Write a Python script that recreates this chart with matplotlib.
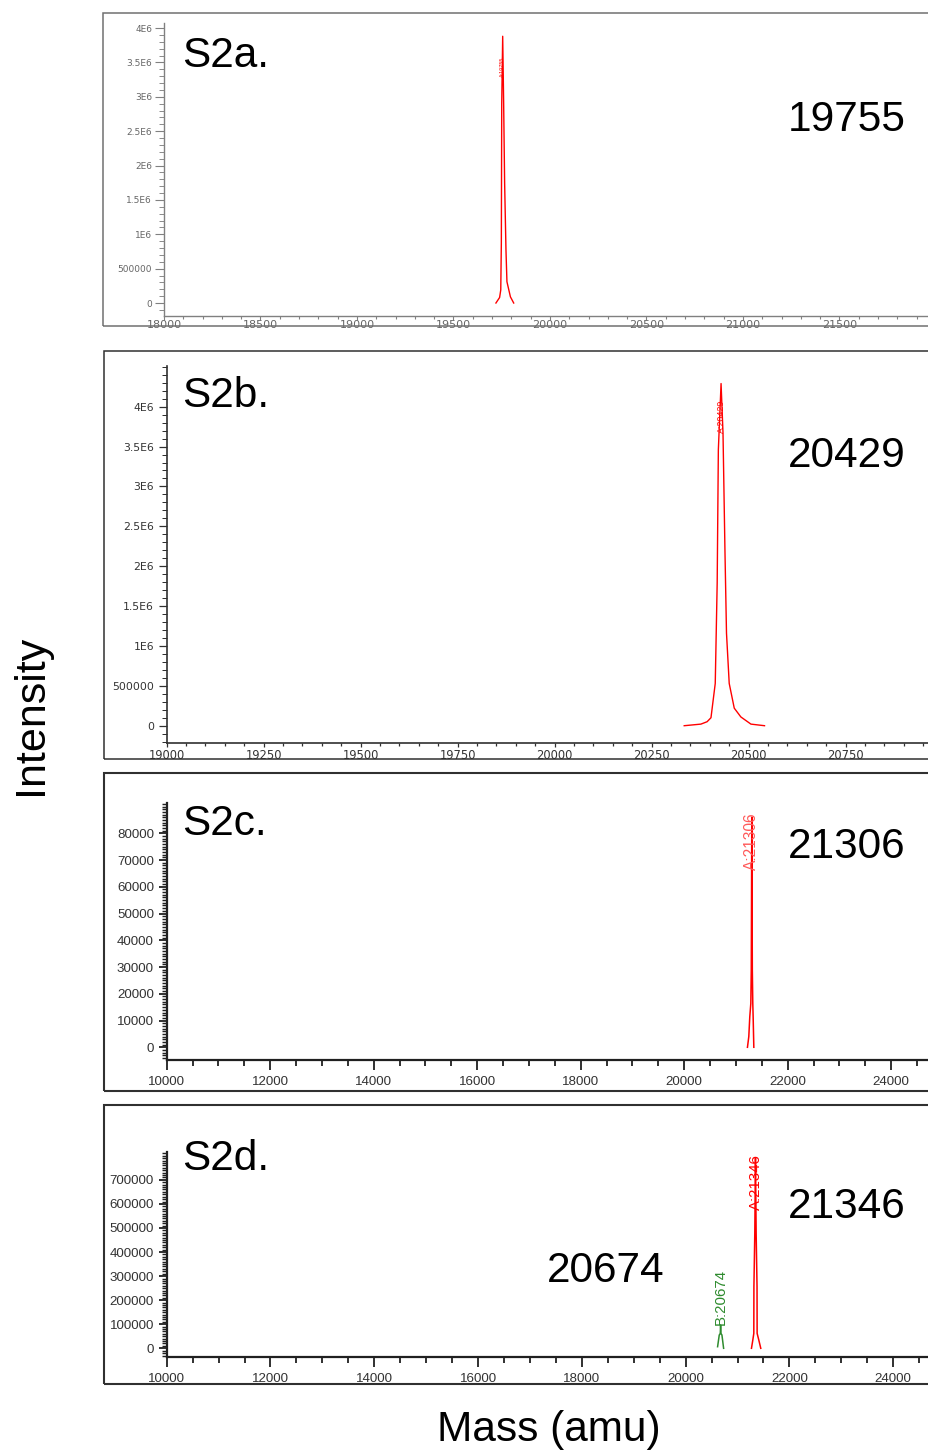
import matplotlib
matplotlib.use("Agg")
import matplotlib.pyplot as plt
from matplotlib.patches import Rectangle
from matplotlib.ticker import MultipleLocator

# ---------------------------------------------------------------
# Datos (espectros deconvolucionados)
# ---------------------------------------------------------------

# S2a
masa_a = [19720, 19739, 19745, 19748, 19750, 19755, 19760, 19765, 19772, 19777, 19795, 19812]
inten_a = [0, 0.08e6, 0.19e6, 0.87e6, 2.9e6, 3.88e6, 2.9e6, 1.75e6, 0.77e6, 0.31e6, 0.09e6, 0]

# S2b
masa_b = [20334, 20377, 20393, 20403, 20414, 20419, 20422, 20429, 20434, 20439,
          20443, 20450, 20463, 20480, 20506, 20541]
inten_b = [0, 0.02e6, 0.05e6, 0.1e6, 0.53e6, 1.79e6, 3.46e6, 4.29e6, 3.67e6, 2.2e6,
           1.16e6, 0.53e6, 0.22e6, 0.11e6, 0.02e6, 0]

# S2c
masa_c = [21222, 21248, 21267, 21287, 21296, 21306, 21316, 21325, 21332, 21345]
inten_c = [0, 4000, 11400, 16400, 29000, 86000, 29000, 16400, 11400, 0]

# S2d (pico A y pico B)
masa_dA = [21269, 21295, 21314, 21316, 21333, 21346, 21359, 21376, 21378, 21410, 21448]
inten_dA = [0, 34500, 62000, 256000, 478000, 790000, 478000, 256000, 62000, 34500, 0]
masa_dB = [20616, 20648, 20668, 20674, 20680, 20700, 20732]
inten_dB = [6600, 55000, 62000, 97000, 62000, 55000, 0]

# Etiquetas de ejes
xt_a = [18000, 18500, 19000, 19500, 20000, 20500, 21000, 21500]
yt_ab = [0, 500000, 1e6, 1.5e6, 2e6, 2.5e6, 3e6, 3.5e6, 4e6]
yl_ab = ["0", "500000", "1E6", "1.5E6", "2E6", "2.5E6", "3E6", "3.5E6", "4E6"]
xt_b = [19000, 19250, 19500, 19750, 20000, 20250, 20500, 20750]
xt_cd = [10000, 12000, 14000, 16000, 18000, 20000, 22000, 24000]
yt_c = [0, 10000, 20000, 30000, 40000, 50000, 60000, 70000, 80000]
yt_d = [0, 100000, 200000, 300000, 400000, 500000, 600000, 700000]

W, H = 929, 1454


def caja(l, t, r, b):
    # pixeles -> fracciones de figura
    return [l / W, 1 - b / H, (r - l) / W, (b - t) / H]


def marco(fig, l, t, r, b, color, lw):
    fig.add_artist(Rectangle((l / W, 1 - b / H), (r - l) / W, (b - t) / H,
                             transform=fig.transFigure, fill=False,
                             edgecolor=color, linewidth=lw))


def ejes(fig, pos, xlim, ylim, xt, xmin, yt, yl, ymin, est):
    ax = fig.add_axes(caja(*pos))
    ax.set_xlim(*xlim)
    ax.set_ylim(*ylim)
    ax.patch.set_alpha(0)
    for s in ("top", "right"):
        ax.spines[s].set_visible(False)
    for s in ("left", "bottom"):
        ax.spines[s].set_color(est["spine"])
        ax.spines[s].set_linewidth(est["slw"])
    ax.set_xticks(xt, [str(v) for v in xt], fontsize=est["xfs"],
                  family=est["fam"], color=est["lc"])
    ax.set_yticks(yt, yl, fontsize=est["yfs"], family=est["fam"], color=est["lc"])
    ax.xaxis.set_minor_locator(MultipleLocator(xmin))
    ax.yaxis.set_minor_locator(MultipleLocator(ymin))
    ax.tick_params(axis="y", which="major", length=est["ylen"], width=est["tw"],
                   color=est["spine"], pad=est["ypad"])
    ax.tick_params(axis="y", which="minor", length=est["ylen"] * 0.55,
                   width=est["tw"] * 0.8, color=est["spine"])
    ax.tick_params(axis="x", which="major", length=est["xlen"], width=est["tw"],
                   color=est["spine"], pad=est["xpad"])
    ax.tick_params(axis="x", which="minor", length=est["xlen"] * 0.65,
                   width=est["tw"], color=est["spine"])
    return ax


fig = plt.figure(figsize=(W / 100, H / 100), dpi=100)

est_a = dict(spine="#808080", slw=1.0, fam="DejaVu Sans", lc="#666666", xfs=8, yfs=6.5,
             ylen=6.5, xlen=2.8, tw=0.8, ypad=2, xpad=0.3)
est_b = dict(spine="#303030", slw=1.2, fam="DejaVu Sans", lc="#333333", xfs=8.3, yfs=7.8,
             ylen=6, xlen=3, tw=0.9, ypad=3.2, xpad=1.3)
est_cd = dict(spine="#202020", slw=1.6, fam="Liberation Sans",
              lc="#333333", xfs=9.6, yfs=9.6, ylen=6, xlen=7, tw=1.3, ypad=3.2, xpad=4.5)

# marcos de cada panel
marco(fig, 102.7, 12.7, 940, 326, "#707070", 1.1)
marco(fig, 104, 351, 940, 759, "#303030", 1.1)
marco(fig, 104, 773, 940, 1090.5, "#303030", 1.5)
marco(fig, 104, 1105, 940, 1384, "#303030", 1.5)

# Panel a
ax_a = ejes(fig, (164, 23, 929, 316), (18000, 21964), (-0.189e6, 4.073e6),
            xt_a, 100, yt_ab, yl_ab, 1e5, est_a)
ax_a.plot(masa_a, inten_a, color="red", lw=1.0)
ax_a.text(19755, 3.29e6, "A:19755", rotation=90, ha="center", va="bottom",
          fontsize=4, color="red", family="Liberation Sans")

# Panel b
ax_b = ejes(fig, (166.7, 366, 929, 742.7), (19000, 20965), (-0.213e6, 4.51e6),
            xt_b, 50, yt_ab, yl_ab, 1e5, est_b)
ax_b.plot(masa_b, inten_b, color="red", lw=1.0)
ax_b.text(20429, 3.67e6, "A:20429", rotation=90, ha="center", va="bottom",
          fontsize=6.4, color="red", family="Liberation Sans")

# Panel c
ax_c = ejes(fig, (166.7, 803.3, 929, 1060), (10000, 24730), (-4750, 91200),
            xt_cd, 500, yt_c, [str(v) for v in yt_c], 1000, est_cd)
ax_c.plot(masa_c, inten_c, color="red", lw=1.1)
ax_c.text(21306, 66300, "A:21306", rotation=90, ha="center", va="bottom",
          fontsize=11.2, color="#ff5a5a", family="Liberation Sans")

# Panel d
ax_d = ejes(fig, (166.7, 1151.7, 929, 1357.3), (10000, 24690), (-37400, 817000),
            xt_cd, 500, yt_d, [str(v) for v in yt_d], 10000, est_cd)
ax_d.plot(masa_dA, inten_dA, color="red", lw=1.1)
ax_d.plot(masa_dB, inten_dB, color="#2e8b2e", lw=1.1)
ax_d.text(21346, 575000, "A:21346", rotation=90, ha="center", va="bottom",
          fontsize=10.8, color="red", family="Liberation Sans")
ax_d.text(20674, 97000, "B:20674", rotation=90, ha="center", va="bottom",
          fontsize=10.8, color="#2e8b2e", family="Liberation Sans")

# Rotulos grandes
grande = dict(fontsize=30.5, family="Liberation Sans", color="black", va="baseline")
rotulos = [
    (182, 67.3, "S2a.", "left"), (906, 130.7, "19755", "right"),
    (182, 407.3, "S2b.", "left"), (906, 466.7, "20429", "right"),
    (182, 835, "S2c.", "left"), (906, 858.3, "21306", "right"),
    (182, 1170, "S2d.", "left"), (906, 1218, "21346", "right"),
    (664.5, 1281.7, "20674", "right"),
]
for px, py, txt, ha in rotulos:
    fig.text(px / W, 1 - py / H, txt, ha=ha, **grande)

fig.text(31 / W, 1 - 715 / H, "Intensity", rotation=90, ha="center", va="center",
         fontsize=31, family="Liberation Sans")
fig.text(549 / W, 1 - 1441 / H, "Mass (amu)", ha="center", va="baseline",
         fontsize=30.5, family="Liberation Sans")

fig.savefig("out.png", dpi=100)
